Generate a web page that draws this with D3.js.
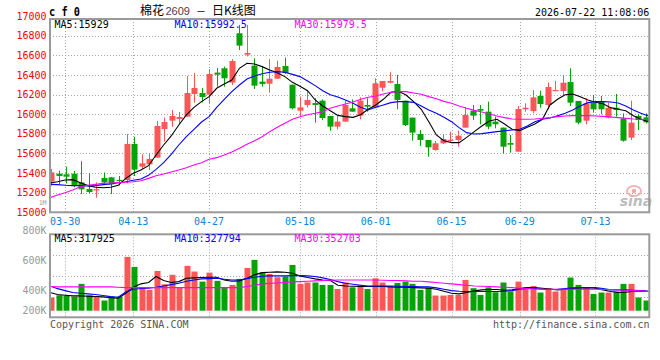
<!DOCTYPE html>
<html><head><meta charset="utf-8">
<script src="https://cdn.jsdelivr.net/npm/d3@7"></script>
<style>body{margin:0;background:#fff}svg{display:block}</style>
</head><body><svg id="c" width="660" height="360"></svg>
<script>
// ---------------- data ----------------
const dates = ["03-26","03-27","03-30","03-31","04-01","04-02","04-03","04-07","04-08","04-09",
"04-10","04-13","04-14","04-15","04-16","04-17","04-20","04-21","04-22","04-23",
"04-24","04-27","04-28","04-29","04-30","05-06","05-07","05-08","05-11","05-12",
"05-13","05-14","05-15","05-18","05-19","05-20","05-21","05-22","05-25","05-26",
"05-27","05-28","05-29","06-01","06-02","06-03","06-04","06-05","06-08","06-09",
"06-10","06-11","06-12","06-15","06-16","06-17","06-18","06-22","06-23","06-24",
"06-25","06-26","06-29","06-30","07-01","07-02","07-03","07-06","07-07","07-08",
"07-09","07-10","07-13","07-14","07-15","07-16","07-17","07-20","07-21","07-22"];
const tickDates = ["03-30","04-13","04-27","05-18","06-01","06-15","06-29","07-13"];

const open = [15312,15394,15387,15394,15305,15238,15230,15350,15356,15330,
15329,15697,15465,15489,15557,15849,15934,15951,15975,16206,
16216,16199,16424,16468,16322,16825,16607,16495,16332,16311,
16362,16491,16301,16036,16094,16114,16138,15982,15873,15924,
16060,15985,16094,16066,16270,16321,16308,16138,15965,15798,
15737,15635,15703,15730,15737,15863,16036,16053,16026,15924,
15863,15706,15618,16050,16032,16186,16094,16237,16237,16328,
16135,15934,16118,16135,15965,16066,15958,15761,15982,15968];
const high = [15441,15424,15465,15421,15520,15397,15305,15407,15360,15370,
15799,15768,15591,15601,15931,15965,16043,16023,16389,16420,
16267,16458,16471,16485,16563,16910,16910,16570,16485,16563,
16546,16576,16301,16179,16240,16162,16151,15982,15985,16138,
16151,16172,16162,16366,16338,16427,16400,16138,15965,15839,
15737,15727,15795,15822,15832,16070,16094,16094,16128,15975,
15863,15788,16084,16111,16247,16240,16321,16338,16400,16468,
16135,16162,16196,16186,16118,16206,16009,16138,16002,16009];
const low = [15271,15285,15295,15255,15187,15194,15150,15278,15187,15272,
15295,15370,15441,15431,15557,15720,15873,15897,15975,16118,
16121,16111,16281,16281,16298,16655,16590,16257,16281,16220,
16362,16410,16050,15982,16070,15914,15941,15832,15846,15924,
16026,15948,16026,16060,16236,16315,16050,15880,15730,15676,
15567,15628,15696,15720,15669,15863,15941,15897,15846,15856,
15601,15608,15618,16026,16009,16066,16050,16237,16186,16084,
15897,15897,16016,15999,15958,15975,15720,15737,15839,15907];
const close = [15407,15370,15363,15272,15234,15207,15235,15305,15285,15320,
15697,15435,15499,15544,15880,15920,15982,15972,16216,16267,
16175,16410,16403,16366,16542,16699,16624,16291,16308,16362,
16481,16420,16060,16070,16145,16094,15961,15873,15924,16094,
16026,16138,16077,16315,16338,16338,16145,15890,15812,15737,
15662,15703,15747,15740,15781,15992,15985,16036,15873,15897,
15669,15689,16053,16066,16172,16104,16277,16247,16321,16118,
15914,16111,16050,16050,16066,16043,15730,15914,15941,15917];
const volume = [354000,369000,365000,360000,445000,369000,354000,334000,360000,360000,
625000,558000,411000,405000,531000,442000,505000,422000,565000,527000,
460000,520000,465000,422000,438000,478000,551000,605000,520000,511000,
489000,494000,571000,445000,454000,454000,438000,438000,411000,454000,
422000,438000,411000,482000,454000,429000,451000,460000,445000,405000,
420000,367000,367000,371000,371000,471000,416000,371000,422000,389000,
454000,394000,460000,422000,431000,387000,416000,394000,405000,487000,
438000,422000,378000,387000,387000,394000,445000,445000,354000,334000];

const ma5 = [15299,15312,15329,15333,15302,15272,15255,15251,15255,15275,
15346,15397,15431,15475,15584,15686,15778,15890,15992,16070,
16128,16179,16264,16308,16349,16468,16519,16512,16485,16451,
16423,16383,16325,16284,16240,16145,16084,16036,15988,15975,
15968,15995,16050,16094,16152,16223,16233,16196,16128,16050,
15924,15788,15730,15710,15710,15764,15822,15880,15931,15948,
15900,15846,15832,15866,15900,15948,16094,16152,16199,16206,
16179,16145,16121,16107,16067,16050,16036,15985,15948,15924];
const ma10 = [15285,15282,15275,15272,15272,15268,15272,15282,15288,15302,
15312,15326,15339,15377,15438,15506,15591,15686,15771,15846,
15920,15975,16070,16152,16230,16298,16359,16389,16413,16427,
16434,16427,16406,16383,16338,16291,16240,16199,16175,16145,
16111,16070,16043,16070,16094,16118,16128,16128,16121,16084,
16043,16009,15968,15924,15863,15812,15798,15802,15812,15822,
15832,15839,15846,15880,15924,15948,15961,15985,16009,16043,
16084,16118,16128,16128,16124,16114,16084,16043,16009,15982];
const ma30 = [15149,15176,15200,15227,15261,15275,15285,15295,15299,15302,
15306,15312,15322,15346,15373,15390,15411,15431,15455,15482,
15506,15540,15557,15584,15615,15652,15693,15730,15771,15822,
15866,15907,15948,15975,15995,16009,16026,16060,16084,16104,
16124,16152,16172,16186,16206,16223,16230,16230,16216,16203,
16179,16158,16131,16111,16084,16060,16039,16022,16002,15982,
15965,15951,15948,15948,15951,15958,15965,15975,15982,15985,
15985,15985,15982,15978,15972,15965,15958,15951,15948,15944];

const vma5 = [387000,374000,369000,365000,365000,362000,360000,358000,353000,349000,
382000,422000,445000,454000,494000,467000,454000,460000,482000,485000,
487000,489000,489000,471000,462000,465000,482000,505000,520000,522000,
525000,522000,516000,498000,487000,478000,471000,467000,436000,431000,
429000,427000,427000,427000,427000,425000,422000,422000,420000,418000,
416000,409000,396000,382000,378000,387000,398000,405000,407000,407000,
402000,405000,414000,420000,420000,416000,411000,405000,409000,414000,
418000,420000,416000,405000,394000,387000,389000,396000,398000,394000];
const vma10 = [431000,413000,400000,387000,382000,378000,374000,367000,360000,356000,
390000,409000,414000,416000,422000,431000,440000,449000,462000,471000,
478000,480000,482000,476000,471000,471000,480000,489000,496000,498000,
498000,498000,500000,500000,498000,494000,485000,474000,460000,449000,
442000,436000,431000,431000,431000,431000,429000,427000,427000,425000,
425000,418000,409000,400000,396000,394000,394000,394000,394000,394000,
396000,400000,409000,414000,414000,409000,407000,409000,414000,418000,
420000,420000,420000,414000,405000,405000,405000,402000,400000,396000];
const vma30 = [427000,425000,425000,425000,425000,425000,425000,425000,425000,422000,
420000,420000,420000,420000,420000,420000,420000,420000,420000,420000,
420000,420000,420000,420000,420000,420000,427000,436000,445000,449000,
451000,454000,458000,460000,462000,465000,467000,469000,471000,471000,
471000,471000,471000,471000,469000,467000,467000,465000,462000,462000,
458000,454000,449000,445000,440000,436000,431000,429000,427000,425000,
422000,420000,416000,414000,411000,409000,409000,409000,409000,409000,
409000,409000,409000,407000,407000,405000,402000,400000,398000,394000];

const priceTicks = [15000,15200,15400,15600,15800,16000,16200,16400,16600,16800,17000];
const volTicks = [800000,600000,400000,200000];
const volTickLabels = ["800K","600K","400K","200K"];
const priceMALabels = ["MA5:15929","MA10:15992.5","MA30:15979.5"];
const volMALabels = ["MA5:317925","MA10:327794","MA30:352703"];
const codeLabel = "c f 0";
const titleParts = ["棉花","2609","－","日K线图"];
const stamp = "2026-07-22 11:08:06";
const footLeft = "Copyright 2026 SINA.COM";
const footRight = "http://finance.sina.com.cn";

// ---------------- layout ----------------
const W = 660, H = 360;
const L = 50, R = 649.3, pTop = 19, pBot = 212.3;
const vTop = 234.3, vBot = 317.3, vBase = 310.7;
const RED = "#fc5656", GREEN = "#05a305", GRID = "#a8a8a8", BORDER = "#9a9a9a";
const MONO = "'DejaVu Sans Mono', 'Liberation Mono', monospace";
const maColors = ["#000000", "#0000ff", "#ff00ff"];

const svg = d3.select("#c");
svg.append("rect").attr("width", W).attr("height", H).attr("fill", "#fff");

const n = close.length;
const xC = d3.scaleLinear().domain([0, n - 1]).range([52.3, 646.7]);
const xL = d3.scaleLinear().domain([0, n - 1]).range([L, 648.5]);
const y = d3.scaleLinear().domain([15000, 17000]).range([pBot, 16.1]);
const yv = d3.scaleLinear().domain([266000, 800000]).range([vBase, 230.6]);

const defs = svg.append("defs");
defs.append("clipPath").attr("id", "cp").append("rect")
  .attr("x", L).attr("y", pTop).attr("width", R - L).attr("height", pBot - pTop);
defs.append("clipPath").attr("id", "cv").append("rect")
  .attr("x", L).attr("y", vTop).attr("width", R - L).attr("height", vBot - vTop);

const tickIdx = tickDates.map(t => dates.indexOf(t));

// ---------- grids ----------
const g = svg.append("g").attr("stroke", GRID).attr("stroke-dasharray", "1,2").attr("stroke-width", 1);
priceTicks.filter(v => v > 15000 && v < 17000).forEach(v => {
  const yy = Math.round(y(v)) + 0.5;
  g.append("line").attr("x1", L).attr("x2", R).attr("y1", yy).attr("y2", yy);
});
tickIdx.forEach(i => {
  const xx = Math.round(xL(i)) + 0.5;
  g.append("line").attr("x1", xx).attr("x2", xx).attr("y1", pTop).attr("y2", pBot);
  g.append("line").attr("x1", xx).attr("x2", xx).attr("y1", vTop).attr("y2", vBot);
});
[1, 2, 3].forEach(k => {
  const yy = Math.round(vTop + k * (vBot - vTop) / 4) + 0.5;
  g.append("line").attr("x1", L).attr("x2", R).attr("y1", yy).attr("y2", yy);
});

// ---------- watermark ----------
const wm = svg.append("g");
wm.append("ellipse").attr("cx", 634).attr("cy", 191).attr("rx", 7).attr("ry", 5)
  .attr("fill", "none").attr("stroke", "#f3b3b3").attr("stroke-width", 2);
wm.append("circle").attr("cx", 634).attr("cy", 191).attr("r", 2.2).attr("fill", "#f0a8a8");
wm.append("text").attr("x", 636).attr("y", 206).attr("text-anchor", "middle")
  .attr("font-family", "'DejaVu Sans', sans-serif").attr("font-style", "italic").attr("font-weight", "bold")
  .attr("font-size", 14).attr("fill", "#bdbdbd").text("sina");

// ---------- candles ----------
const cg = svg.append("g").attr("clip-path", "url(#cp)");
d3.range(n).forEach(i => {
  const up = close[i] >= open[i];
  const col = up ? RED : GREEN;
  const X = Math.round(xC(i));
  cg.append("rect").attr("x", X - 1).attr("width", 1)
    .attr("y", y(high[i])).attr("height", Math.max(1, y(low[i]) - y(high[i]))).attr("fill", col);
  const top = y(Math.max(open[i], close[i])), bot = y(Math.min(open[i], close[i]));
  cg.append("rect").attr("x", X - 3.5).attr("width", 6)
    .attr("y", top).attr("height", Math.max(1.2, bot - top)).attr("fill", col);
});

// ---------- price MA lines ----------
const lineP = d3.line().x((d, i) => xL(i)).y(d => y(d));
[ma5, ma10, ma30].forEach((s, k) => {
  cg.append("path").attr("d", lineP(s)).attr("fill", "none")
    .attr("stroke", maColors[k]).attr("stroke-width", 1.1);
});

// ---------- volume bars ----------
const vg = svg.append("g").attr("clip-path", "url(#cv)");
d3.range(n).forEach(i => {
  const up = close[i] >= open[i];
  const X = Math.round(xC(i));
  vg.append("rect").attr("x", X - 3.5).attr("width", 6)
    .attr("y", yv(volume[i])).attr("height", vBase - yv(volume[i]))
    .attr("fill", up ? RED : GREEN);
});
const lineV = d3.line().x((d, i) => xL(i)).y(d => yv(d));
[vma5, vma10, vma30].forEach((s, k) => {
  vg.append("path").attr("d", lineV(s)).attr("fill", "none")
    .attr("stroke", maColors[k]).attr("stroke-width", 1.1);
});

// ---------- borders ----------
const b = svg.append("g").attr("fill", "none").attr("stroke", BORDER).attr("stroke-width", 2);
b.append("rect").attr("x", L).attr("y", pTop).attr("width", R - L).attr("height", pBot - pTop);
b.append("rect").attr("x", L).attr("y", vTop).attr("width", R - L).attr("height", vBot - vTop);

// ---------- texts ----------
function txt(x, yy, s, o) {
  o = o || {};
  return svg.append("text").attr("x", x).attr("y", yy)
    .attr("font-family", o.family || MONO).attr("font-size", o.size || 10)
    .attr("fill", o.fill || "#000").attr("text-anchor", o.anchor || "start")
    .attr("font-weight", o.weight || "normal").text(s);
}
priceTicks.forEach(v => txt(46.5, y(v) + 3.6, String(v), {fill: "#ff0000", anchor: "end"}));
txt(46.5, 204.8, "1M", {fill: "#999", anchor: "end", size: 6.5});
tickIdx.forEach((i, k) => txt(xL(i), 225.3, tickDates[k], {fill: "#0a84dc", anchor: "middle"}));
volTicks.forEach((v, k) => txt(46.5, Math.min(yv(v), 310) + 3.6, volTickLabels[k], {fill: "#999", anchor: "end"}));

const maX = [54.5, 174.5, 294.5];
priceMALabels.forEach((s, k) => txt(maX[k], 27.6, s, {fill: maColors[k]}));
volMALabels.forEach((s, k) => txt(maX[k], 241.9, s, {fill: maColors[k]}));

txt(49, 15.5, codeLabel, {size: 12, weight: "bold"}).attr("textLength", 31).attr("lengthAdjust", "spacingAndGlyphs");
const CJK = "'Noto Sans CJK SC', sans-serif";
txt(140, 15, titleParts[0], {family: CJK, size: 12});
txt(165.5, 14.5, titleParts[1], {family: "'Liberation Sans', Arial, sans-serif", size: 11, fill: "#444"});
txt(196, 14.5, titleParts[2], {family: CJK, size: 10});
txt(212, 15, titleParts[3], {family: CJK, size: 12});
txt(535, 15.8, stamp);
txt(50, 327.6, footLeft, {fill: "#555"});
txt(649.5, 327.6, footRight, {fill: "#555", anchor: "end"});
</script>
</body></html>
